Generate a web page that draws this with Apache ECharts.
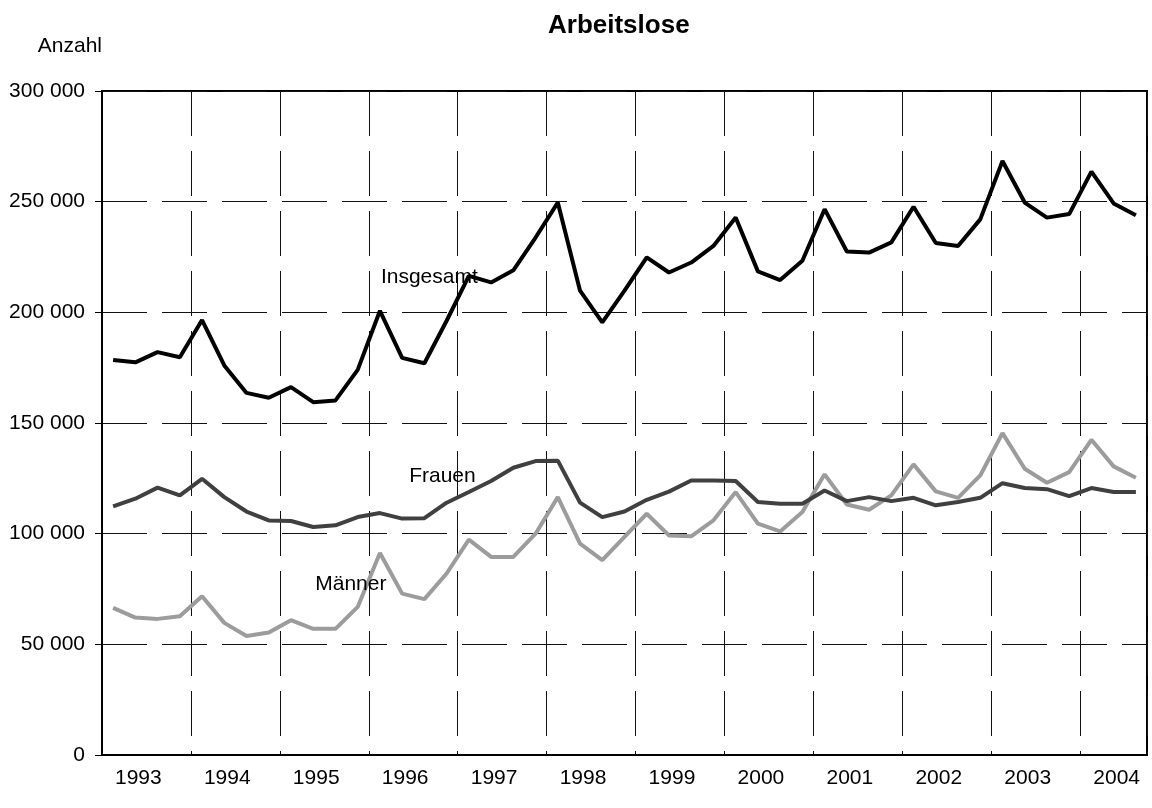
<!DOCTYPE html>
<html>
<head>
<meta charset="utf-8">
<title>Arbeitslose</title>
<script src="https://cdn.jsdelivr.net/npm/echarts@6/dist/echarts.min.js"></script>
<style>
  html, body { margin: 0; padding: 0; background: #fff; }
  #container { width: 1152px; height: 808px; }
</style>
</head>
<body>
<div id="container"></div>
<script>
// Quartale 1993 I bis 2004 III
var years = ['1993', '1994', '1995', '1996', '1997', '1998', '1999', '2000', '2001', '2002', '2003', '2004'];
var quarters = [];
years.forEach(function (y) {
  ['I', 'II', 'III', 'IV'].forEach(function (q) { quarters.push(y + ' ' + q); });
});
quarters = quarters.slice(0, 47);

// Werte in Tausend
var insgesamt = [178.5, 177.4, 182, 179.7, 196.5, 176, 163.6, 161.4, 166.2, 159.4, 160.2, 174,
  200.7, 179.4, 177, 196.2, 216.5, 213.5, 219, 233.8, 249.6, 209.8, 195.5, 209.8,
  224.8, 218, 222.5, 230, 242.8, 218.5, 214.6, 223.3, 246.6, 227.5, 227, 231.6,
  247.7, 231.3, 230, 242, 268.4, 249.6, 242.8, 244.4, 263.6, 249.2, 243.9];
var frauen = [112.3, 115.8, 120.8, 117.3, 124.8, 116.5, 110, 106, 105.7, 103, 103.8, 107.5,
  109.3, 106.8, 107, 114, 118.8, 123.8, 129.8, 132.8, 133, 114, 107.5, 110,
  115.3, 119, 124, 124, 123.8, 114.3, 113.5, 113.5, 119.5, 114.7, 116.5, 114.7,
  116.2, 112.8, 114.3, 116.2, 122.8, 120.6, 120.1, 117, 120.6, 118.8, 118.8];
var maenner = [66.5, 62.1, 61.5, 62.7, 71.7, 59.7, 53.8, 55.3, 60.9, 57, 57, 66.9,
  91.3, 72.9, 70.4, 82, 97.3, 89.5, 89.5, 100, 116.5, 95.5, 88, 98.5,
  109, 99.2, 98.8, 106, 118.8, 104.5, 101, 109.8, 126.8, 113.2, 110.8, 117.3,
  131.3, 119.1, 116.2, 126.3, 145.4, 129.3, 123, 127.8, 142.4, 130.4, 125.3];

function toAnzahl(arr) {
  return arr.map(function (v) { return Math.round(v * 1000); });
}
function fmt(v) {
  return String(v).replace(/\B(?=(\d{3})+(?!\d))/g, ' ');
}

var font = "'Liberation Sans', Arial, sans-serif";
var myChart = echarts.init(document.getElementById('container'), null, { renderer: 'canvas' });

function seriesLabel(text, idx, value, dist) {
  return {
    symbol: 'circle',
    symbolSize: 0,
    silent: true,
    data: [{
      coord: [idx, value],
      label: {
        show: true,
        formatter: text,
        position: 'right',
        distance: dist,
        color: '#000',
        fontSize: 21,
        fontFamily: font
      }
    }]
  };
}

var option = {
  animation: false,
  backgroundColor: '#fff',
  textStyle: { fontFamily: font },
  title: {
    text: 'Arbeitslose',
    left: 543,
    top: 8,
    textStyle: { fontSize: 26, fontWeight: 'bold', color: '#000', fontFamily: font }
  },
  grid: {
    left: 102,
    right: 5,
    top: 91,
    bottom: 53,
    show: true,
    borderColor: '#000',
    borderWidth: 2,
    containLabel: false
  },
  xAxis: {
    type: 'category',
    data: quarters,
    boundaryGap: true,
    axisLine: { show: true, lineStyle: { color: '#000', width: 2 } },
    axisTick: { show: false },
    axisLabel: {
      interval: 0,
      margin: 13,
      fontSize: 21,
      color: '#000',
      padding: [0, 0, 0, 6],
      formatter: function (val, idx) {
        return idx % 4 === 1 ? val.slice(0, 4) : '';
      }
    },
    splitLine: {
      show: true,
      interval: function (idx) { return idx > 0 && idx % 4 === 0; },
      lineStyle: { color: '#111', width: 1, type: [45, 15] }
    }
  },
  yAxis: {
    type: 'value',
    min: 0,
    max: 300000,
    interval: 50000,
    name: 'Anzahl',
    nameLocation: 'end',
    nameGap: 34,
    nameTextStyle: { fontSize: 21, color: '#000', align: 'right', fontFamily: font },
    axisLine: { show: true, lineStyle: { color: '#000', width: 2 } },
    axisTick: { show: true, inside: false, length: 7, lineStyle: { color: '#000', width: 1 } },
    axisLabel: {
      margin: 17,
      fontSize: 21,
      color: '#000',
      formatter: fmt
    },
    splitLine: {
      show: true,
      lineStyle: { color: '#111', width: 1, type: [45, 15] }
    }
  },
  series: [
    {
      name: 'Insgesamt',
      type: 'line',
      data: toAnzahl(insgesamt),
      showSymbol: false,
      lineStyle: { color: '#000', width: 4 },
      itemStyle: { color: '#000' },
      z: 5,
      markPoint: seriesLabel('Insgesamt', 12, 216000, 1)
    },
    {
      name: 'Frauen',
      type: 'line',
      data: toAnzahl(frauen),
      showSymbol: false,
      lineStyle: { color: '#404040', width: 4 },
      itemStyle: { color: '#404040' },
      z: 4,
      markPoint: seriesLabel('Frauen', 13, 126000, 7)
    },
    {
      name: 'Männer',
      type: 'line',
      data: toAnzahl(maenner),
      showSymbol: false,
      lineStyle: { color: '#9c9c9c', width: 4 },
      itemStyle: { color: '#9c9c9c' },
      z: 3,
      markPoint: seriesLabel('Männer', 9, 77000, 2)
    }
  ]
};

myChart.setOption(option);
</script>
</body>
</html>
